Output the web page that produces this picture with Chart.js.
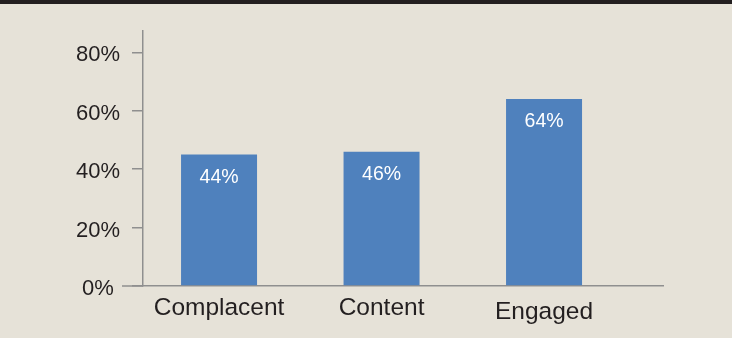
<!DOCTYPE html>
<html>
<head>
<meta charset="utf-8">
<script src="https://cdn.jsdelivr.net/npm/chart.js@4/dist/chart.umd.min.js"></script>
<style>
  html, body { margin: 0; padding: 0; background: #e6e2d8; }
  #wrap { position: relative; width: 732px; height: 338px; }
</style>
</head>
<body>
<div id="wrap"><canvas id="c" width="732" height="338"></canvas></div>
<script>
const categories = ["Complacent", "Content", "Engaged"];
const values = [45, 46, 64];
const valueLabels = ["44%", "46%", "64%"];
const yTickValues = [0, 20, 40, 60, 80];

const FONT = '"Liberation Sans", Arial, sans-serif';
const TEXT = '#231f20';
const AXIS = '#8f8f8f';

const decor = {
  id: 'decor',
  beforeDraw(chart) {
    const ctx = chart.ctx;
    ctx.save();
    ctx.fillStyle = '#e6e2d8';
    ctx.fillRect(0, 0, chart.width, chart.height);
    ctx.fillStyle = '#231f20';
    ctx.fillRect(0, 0, chart.width, 4);
    ctx.restore();
  },
  afterDraw(chart) {
    const ctx = chart.ctx;
    const y0 = chart.scales.y.getPixelForValue(0);
    ctx.save();
    ctx.strokeStyle = AXIS;
    ctx.lineWidth = 1.5;
    ctx.beginPath();
    ctx.moveTo(122, y0);
    ctx.lineTo(chart.chartArea.left, y0);
    ctx.stroke();
    ctx.restore();
  },
  afterDatasetsDraw(chart) {
    const ctx = chart.ctx;
    const meta = chart.getDatasetMeta(0);
    ctx.save();
    ctx.fillStyle = '#ffffff';
    ctx.font = '19.5px ' + FONT;
    ctx.textAlign = 'center';
    ctx.textBaseline = 'middle';
    meta.data.forEach((bar, i) => {
      ctx.fillText(valueLabels[i], bar.x, bar.y + 23);
    });
    ctx.restore();
  }
};

new Chart(document.getElementById('c'), {
  type: 'bar',
  data: {
    datasets: [{
      data: values.map((v, i) => ({ x: i, y: v })),
      backgroundColor: '#4f81bd',
      borderWidth: 0,
      barPercentage: 0.4677,
      categoryPercentage: 1
    }]
  },
  options: {
    responsive: false,
    animation: false,
    devicePixelRatio: 1,
    layout: { padding: { left: 0, right: 69, top: 31, bottom: 0 } },
    plugins: { legend: { display: false }, tooltip: { enabled: false } },
    scales: {
      x: {
        type: 'linear',
        offset: false,
        min: -0.468,
        max: 2.732,
        afterFit(scale) { scale.height = 52; },
        afterBuildTicks(scale) { scale.ticks = categories.map((_, i) => ({ value: i })); },
        grid: { offset: false, drawOnChartArea: false, drawTicks: false },
        border: { display: true, color: AXIS, width: 1.5 },
        ticks: {
          padding: 8,
          color: TEXT,
          maxRotation: 0,
          autoSkip: false,
          font: (ctx) => ({ family: FONT, size: 24.5, lineHeight: ctx.index === 2 ? 1.5 : 1.2 }),
          callback: (v) => categories[Math.round(v)]
        }
      },
      y: {
        min: 0,
        max: 87.3,
        afterFit(scale) { scale.width = 143; },
        afterBuildTicks(scale) { scale.ticks = yTickValues.map(v => ({ value: v })); },
        grid: { drawOnChartArea: false, drawTicks: true, tickLength: 11, color: AXIS, lineWidth: 1.5 },
        border: { display: true, color: AXIS, width: 1.5 },
        ticks: {
          padding: 12,
          color: TEXT,
          labelOffset: 3,
          font: { family: FONT, size: 22 },
          callback: (v) => v === 0 ? '0% ' : v + '%'
        }
      }
    }
  },
  plugins: [decor]
});
</script>
</body>
</html>
